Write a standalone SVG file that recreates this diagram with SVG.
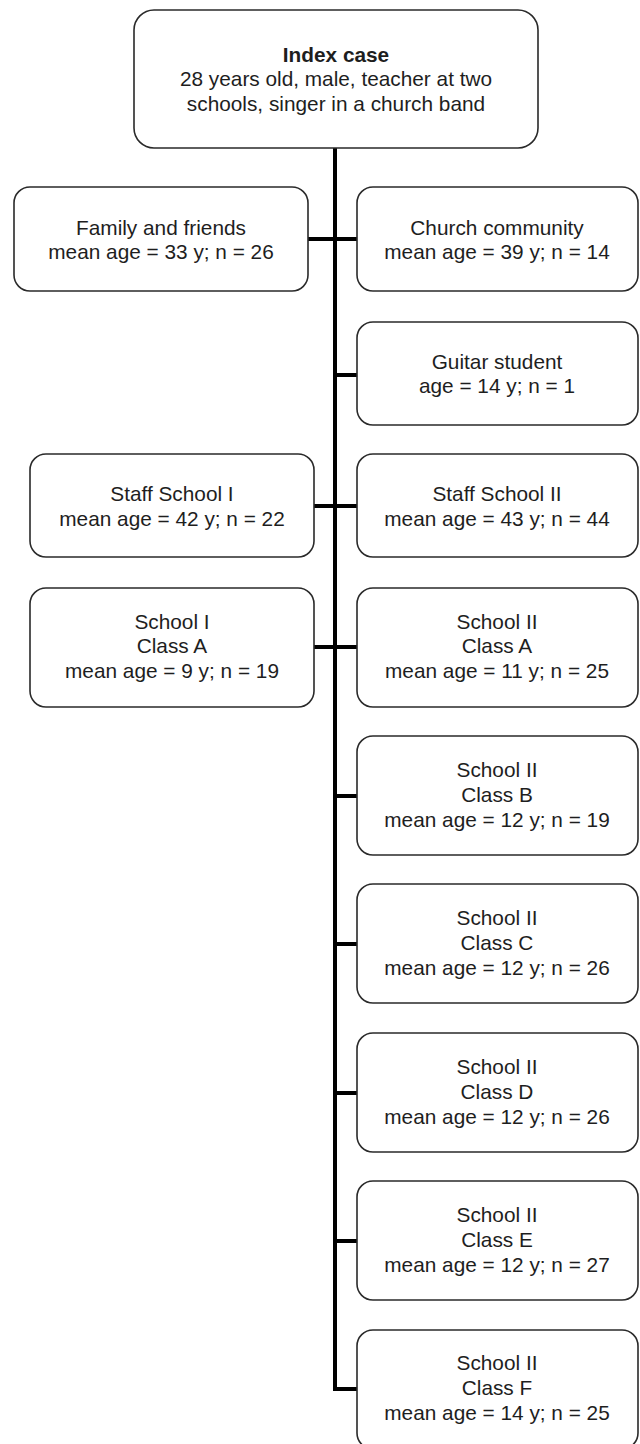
<svg xmlns="http://www.w3.org/2000/svg" width="640" height="1444" viewBox="0 0 640 1444">
<style>
.box{fill:#ffffff;stroke:#2a2a2a;stroke-width:1.6}
text{font-family:"Liberation Sans",Arial,sans-serif;font-size:20.8px;fill:#1e1e1e;text-anchor:middle}
.b{font-weight:bold}
.conn{fill:none;stroke:#000;stroke-width:4}
</style>
<rect width="640" height="1444" fill="#ffffff"/>
<g id="connectors">
<path class="conn" d="M335 148 V1389 H357"/>
<line class="conn" x1="308" y1="239" x2="357" y2="239"/>
<line class="conn" x1="335" y1="375" x2="357" y2="375"/>
<line class="conn" x1="314" y1="506" x2="357" y2="506"/>
<line class="conn" x1="314" y1="647" x2="357" y2="647"/>
<line class="conn" x1="335" y1="796" x2="357" y2="796"/>
<line class="conn" x1="335" y1="944" x2="357" y2="944"/>
<line class="conn" x1="335" y1="1093" x2="357" y2="1093"/>
<line class="conn" x1="335" y1="1241" x2="357" y2="1241"/>
</g>
<g id="index">
<rect class="box" x="134" y="10" width="404" height="138" rx="20"/>
<text x="336" y="62" class="b">Index case</text>
<text x="336" y="86">28 years old, male, teacher at two</text>
<text x="336" y="111">schools, singer in a church band</text>
</g>
<g id="family">
<rect class="box" x="14" y="187" width="294" height="104" rx="16"/>
<text x="161" y="235">Family and friends</text>
<text x="161" y="259">mean age = 33 y; n = 26</text>
</g>
<g id="church">
<rect class="box" x="357" y="187" width="281" height="104" rx="16"/>
<text x="497" y="235">Church community</text>
<text x="497" y="259">mean age = 39 y; n = 14</text>
</g>
<g id="guitar">
<rect class="box" x="357" y="322" width="281" height="103" rx="16"/>
<text x="497" y="369">Guitar student</text>
<text x="497" y="393">age = 14 y; n = 1</text>
</g>
<g id="staff1">
<rect class="box" x="30" y="454" width="284" height="103" rx="16"/>
<text x="172" y="501">Staff School I</text>
<text x="172" y="526">mean age = 42 y; n = 22</text>
</g>
<g id="staff2">
<rect class="box" x="357" y="454" width="281" height="103" rx="16"/>
<text x="497" y="501">Staff School II</text>
<text x="497" y="526">mean age = 43 y; n = 44</text>
</g>
<g id="s1a">
<rect class="box" x="30" y="588" width="284" height="119" rx="16"/>
<text x="172" y="629">School I</text>
<text x="172" y="653">Class A</text>
<text x="172" y="678">mean age = 9 y; n = 19</text>
</g>
<g id="s2a">
<rect class="box" x="357" y="588" width="281" height="119" rx="16"/>
<text x="497" y="629">School II</text>
<text x="497" y="653">Class A</text>
<text x="497" y="678">mean age = 11 y; n = 25</text>
</g>
<g id="s2b">
<rect class="box" x="357" y="736" width="281" height="119" rx="16"/>
<text x="497" y="777">School II</text>
<text x="497" y="802">Class B</text>
<text x="497" y="827">mean age = 12 y; n = 19</text>
</g>
<g id="s2c">
<rect class="box" x="357" y="884" width="281" height="119" rx="16"/>
<text x="497" y="925">School II</text>
<text x="497" y="950">Class C</text>
<text x="497" y="975">mean age = 12 y; n = 26</text>
</g>
<g id="s2d">
<rect class="box" x="357" y="1033" width="281" height="119" rx="16"/>
<text x="497" y="1074">School II</text>
<text x="497" y="1099">Class D</text>
<text x="497" y="1124">mean age = 12 y; n = 26</text>
</g>
<g id="s2e">
<rect class="box" x="357" y="1181" width="281" height="119" rx="16"/>
<text x="497" y="1222">School II</text>
<text x="497" y="1247">Class E</text>
<text x="497" y="1272">mean age = 12 y; n = 27</text>
</g>
<g id="s2f">
<rect class="box" x="357" y="1330" width="281" height="119" rx="16"/>
<text x="497" y="1370">School II</text>
<text x="497" y="1395">Class F</text>
<text x="497" y="1420">mean age = 14 y; n = 25</text>
</g>
</svg>
